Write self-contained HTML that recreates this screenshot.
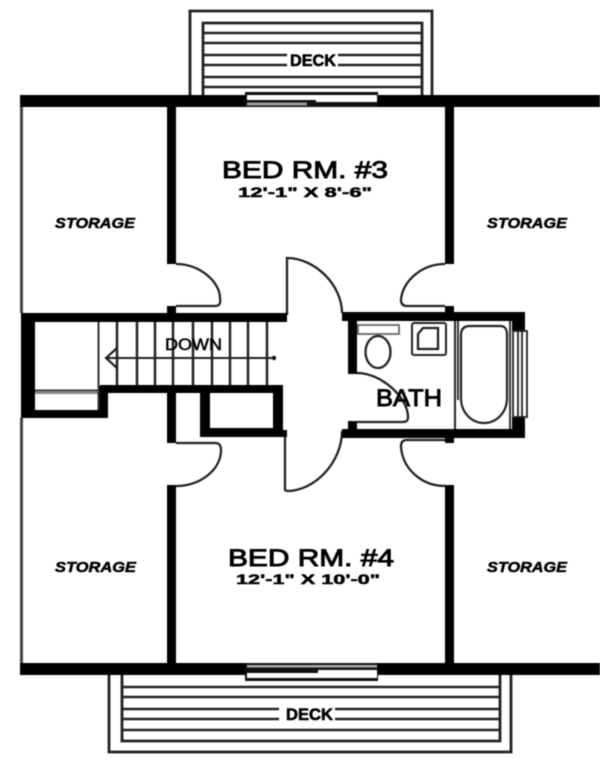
<!DOCTYPE html>
<html><head><meta charset="utf-8"><style>
html,body{margin:0;padding:0;background:#fff;width:600px;height:761px;overflow:hidden}
svg{display:block;filter:blur(.4px)}
text{font-family:"Liberation Sans",sans-serif;fill:#000;stroke:#000}
</style></head><body>
<svg width="600" height="761" viewBox="0 0 600 761" xmlns="http://www.w3.org/2000/svg">
<rect width="600" height="761" fill="#fff"/>
<!-- top deck -->
<g fill="none" stroke="#222">
<path d="M190 95V11H432V95" stroke-width="2.8"/>
<path d="M203 95V23H422V95" stroke-width="2.8"/>
<path d="M203 33H422M203 43H422M203 55H287M338 55H422M203 65H287M338 65H422M203 77H422M203 87H422" stroke-width="2.5"/>
</g>
<!-- bottom deck -->
<g fill="none" stroke="#222">
<path d="M109 675V752H511V675" stroke-width="2.8"/>
<path d="M122 675V741H500V675" stroke-width="2.8"/>
<path d="M122 687H500M122 697H500M122 709H279M335 709H500M122 719H279M335 719H500M122 730H500" stroke-width="2.500"/>
</g>
<!-- top/bottom walls -->
<rect x="20" y="95" width="226" height="12" fill="#000"/>
<rect x="378" y="95" width="222" height="12" fill="#000"/>
<rect x="20" y="663" width="226" height="12" fill="#000"/>
<rect x="378" y="663" width="222" height="12" fill="#000"/>
<!-- top window -->
<rect x="245" y="92" width="133" height="15" fill="#111"/>
<rect x="247" y="95" width="130" height="5" fill="#fff"/>
<rect x="316" y="100" width="61" height="2" fill="#fff"/>
<rect x="247" y="102.500" width="60" height="3" fill="#999"/>
<!-- bottom window -->
<rect x="245" y="663" width="133" height="18" fill="#111"/>
<rect x="247" y="665" width="130" height="2.500" fill="#aaa"/>
<rect x="318" y="670" width="59" height="3" fill="#fff"/>
<rect x="247" y="673" width="130" height="5" fill="#fff"/>
<!-- outer thin left -->
<rect x="20" y="107" width="3" height="206" fill="#444"/>
<rect x="20" y="418" width="3" height="245" fill="#444"/>
<!-- vertical walls -->
<rect x="167" y="107" width="9" height="157" fill="#000"/>
<rect x="445" y="107" width="9" height="157" fill="#000"/>
<rect x="167" y="485" width="9" height="178" fill="#000"/>
<rect x="445" y="485" width="9" height="178" fill="#000"/>
<!-- stair block walls -->
<path d="M21 313H287V322H35V410H98V386H100V385H283V428L283 437H200V393H108V418H21Z" fill="#000"/>
<rect x="210" y="393" width="63" height="35" fill="#fff"/>
<rect x="35" y="322" width="64" height="63" fill="#fff"/>
<rect x="35" y="385" width="63" height="25" fill="#fff"/>
<rect x="99" y="322" width="174" height="63" fill="#fff"/>
<rect x="273" y="322" width="14" height="63" fill="#fff"/>
<rect x="35" y="391" width="63" height="3" fill="#888"/>
<rect x="35" y="389.500" width="63" height="1.500" fill="#333"/>
<rect x="97.500" y="322" width="2" height="88" fill="#333"/>
<rect x="167" y="393" width="9" height="50" fill="#000"/>
<rect x="167" y="306" width="9" height="8" fill="#000"/>
<!-- stair treads -->
<g stroke="#222" stroke-width="2.500" fill="none">
<path d="M117 322V385M137 322V385M155 322V385M173 322V385M193 322V385M212 322V385M230 322V385M248 322V385M267 322V385"/>
<path d="M106 358H274" stroke-width="2"/>
<path d="M117 348L106 358L117 368" stroke-width="2.200"/>
</g>
<circle cx="274" cy="358" r="2.200" fill="#111"/>
<!-- door arcs -->
<g fill="none" stroke="#222" stroke-width="2.300">
<path d="M176 264C200 264 220 282 220 298C221 304 219 306 215 306H176"/>
<path d="M176 443H215C219 443 221 445 221 450C221 470 200 486 176 486"/>
<path d="M445 264C421 264 402 282 401 300C401 304 403 306 407 306H445"/>
<path d="M445 440H407C403 440 401 442 401 446C402 468 421 486 445 486"/>
<path d="M287 315V258C315 258 342 285 342 313"/>
<path d="M285 435V490L287 491C315 491 342 462 342 431"/>
<rect x="283" y="313" width="4" height="9" fill="#000" stroke="none"/>
</g>
<rect x="283" y="430" width="4" height="7" fill="#000"/>
<!-- bath walls -->
<rect x="342" y="312" width="183" height="9" fill="#000"/>
<rect x="348" y="321" width="9" height="53" fill="#000"/>
<rect x="342" y="429" width="183" height="9" fill="#000"/>
<rect x="348" y="421" width="9" height="8" fill="#000"/>
<rect x="445" y="306" width="9" height="7" fill="#000"/>
<rect x="445" y="438" width="9" height="5" fill="#000"/>
<rect x="512" y="321" width="13" height="10" fill="#000"/>
<rect x="512" y="417" width="13" height="13" fill="#000"/>
<g fill="none" stroke="#222" stroke-width="2.300">
<path d="M357 373C382 373 408 398 408 417C408 421 406 422 403 422H357"/>
<path d="M455 321V429" stroke-width="2"/>
<!-- tub -->
<path d="M461 335C461 329 464 326 470 326H500C505 326 507 329 507 335V398C507 412 497 423 484 423C471 423 461 412 461 398Z" stroke-width="2.200"/>
<path d="M458 321V400M510 321V429" stroke-width="1.800"/>
<!-- window -->
<rect x="513" y="331" width="14" height="86" stroke-width="1.800"/>
<path d="M518 331V417M522 331V417" stroke-width="1.800"/>
<!-- toilet -->
<rect x="358" y="325" width="41" height="9" stroke="#666" stroke-width="1.800"/>
<ellipse cx="378" cy="352" rx="12.500" ry="16"/>
<!-- sink -->
<rect x="412" y="323" width="34" height="32" stroke-width="2" rx="2"/>
<path d="M418 349V334L423 328H438V349Z" stroke-width="2.300"/>
</g>
<!-- labels -->
<g>
<text x="222" y="178" font-size="24" stroke-width=".9" textLength="166" lengthAdjust="spacingAndGlyphs">BED RM. #3</text>
<text x="238" y="197" font-size="14" stroke-width=".5" font-weight="bold" textLength="134" lengthAdjust="spacingAndGlyphs">12'-1" X 8'-6"</text>
<text x="228" y="566" font-size="24" stroke-width=".9" textLength="166" lengthAdjust="spacingAndGlyphs">BED RM. #4</text>
<text x="236" y="584" font-size="14" stroke-width=".5" font-weight="bold" textLength="144" lengthAdjust="spacingAndGlyphs">12'-1" X 10'-0"</text>
<g font-size="15" font-weight="bold" font-style="italic" stroke-width=".5">
<text x="55" y="228" textLength="80" lengthAdjust="spacingAndGlyphs">STORAGE</text>
<text x="487" y="228" textLength="80" lengthAdjust="spacingAndGlyphs">STORAGE</text>
<text x="55" y="572" textLength="81" lengthAdjust="spacingAndGlyphs">STORAGE</text>
<text x="487" y="572" textLength="80" lengthAdjust="spacingAndGlyphs">STORAGE</text>
</g>
<text x="290" y="66" font-size="17" stroke-width=".6" font-weight="bold" textLength="46" lengthAdjust="spacingAndGlyphs">DECK</text>
<text x="286" y="720" font-size="17" stroke-width=".6" font-weight="bold" textLength="47" lengthAdjust="spacingAndGlyphs">DECK</text>
<text x="165" y="350" font-size="17" stroke-width=".5" textLength="57" lengthAdjust="spacingAndGlyphs">DOWN</text>
<text x="376" y="406" font-size="24" stroke-width=".9" textLength="66" lengthAdjust="spacingAndGlyphs">BATH</text>
</g>
</svg>
</body></html>
